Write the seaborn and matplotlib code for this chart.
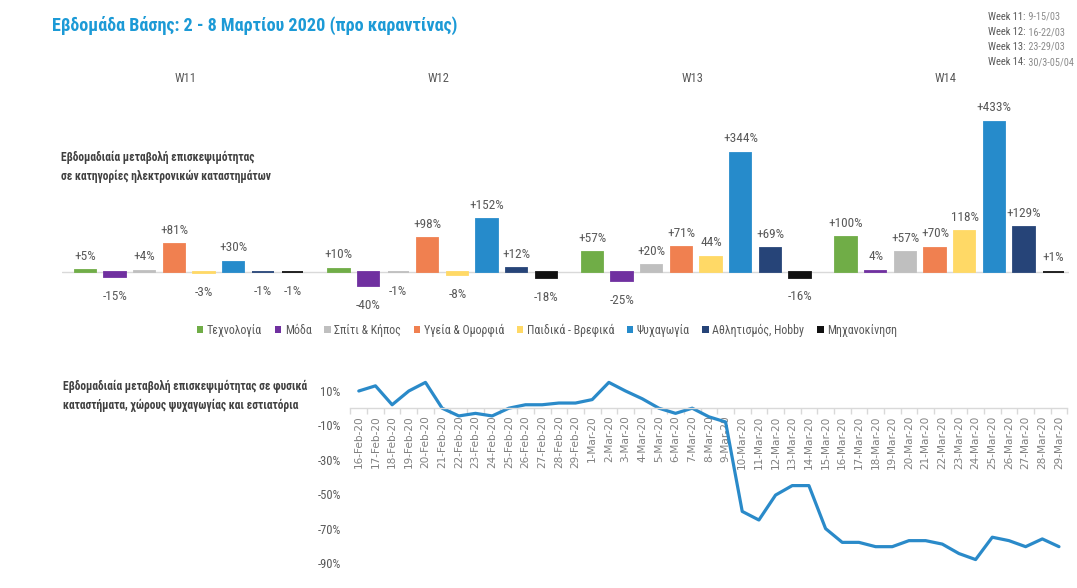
import matplotlib
matplotlib.use("Agg")
import matplotlib.pyplot as plt
import pandas as pd
import seaborn as sns
from matplotlib import font_manager

# ---- weekly change in e-shop visits per category ----
weeks = ["W11", "W12", "W13", "W14"]
categories = ["Τεχνολογία", "Μόδα", "Σπίτι & Κήπος", "Υγεία & Ομορφιά",
              "Παιδικά - Βρεφικά", "Ψυχαγωγία", "Αθλητισμός, Hobby", "Μηχανοκίνηση"]
colors = ["#70AD47", "#7030A0", "#BFBFBF", "#F08050",
          "#FFD966", "#268BCB", "#264478", "#111111"]
w11 = [5, -15, 4, 81, -3, 30, -1, -1]
w12 = [10, -40, -1, 98, -8, 152, 12, -18]
w13 = [57, -25, 20, 71, 44, 344, 69, -16]
w14 = [100, 4, 57, 70, 118, 433, 129, 1]
# values whose label is printed without a leading plus sign
unsigned = {("W13", 4), ("W14", 1), ("W14", 4)}

week_notes = [("Week 11:", " 9-15/03"), ("Week 12:", " 16-22/03"),
              ("Week 13:", " 23-29/03"), ("Week 14:", " 30/3-05/04")]

# ---- daily change in visits to physical stores ----
dates = ["16-Feb-20", "17-Feb-20", "18-Feb-20", "19-Feb-20", "20-Feb-20",
         "21-Feb-20", "22-Feb-20", "23-Feb-20", "24-Feb-20", "25-Feb-20",
         "26-Feb-20", "27-Feb-20", "28-Feb-20", "29-Feb-20", "1-Mar-20",
         "2-Mar-20", "3-Mar-20", "4-Mar-20", "5-Mar-20", "6-Mar-20",
         "7-Mar-20", "8-Mar-20", "9-Mar-20", "10-Mar-20", "11-Mar-20",
         "12-Mar-20", "13-Mar-20", "14-Mar-20", "15-Mar-20", "16-Mar-20",
         "17-Mar-20", "18-Mar-20", "19-Mar-20", "20-Mar-20", "21-Mar-20",
         "22-Mar-20", "23-Mar-20", "24-Mar-20", "25-Mar-20", "26-Mar-20",
         "27-Mar-20", "28-Mar-20", "29-Mar-20"]
visits = [10, 13, 2, 10, 15, 0, -4.5, -3, -4.5, 0, 2, 2, 3, 3,
          5, 15, 10, 5.5, 0, -3, 0, -5, -8, -60, -65, -50.5, -45, -45,
          -70, -78, -78, -80.5, -80.5, -77, -77, -79, -84.5, -88, -75,
          -77, -80.5, -76, -80.5]
y_ticks = [10, -10, -30, -50, -70, -90]

sns.set_theme(style="white")
available = {f.name for f in font_manager.fontManager.ttflist}


def pick(*cands):
    for c in cands:
        if c in available:
            return c
    return "DejaVu Sans"


NARROW = pick("Liberation Sans Narrow", "Roboto Condensed", "Open Sans", "Noto Sans")
plt.rcParams["font.family"] = [NARROW, "DejaVu Sans"]

TXT = "#595959"

fig = plt.figure(figsize=(10.77, 5.88), dpi=100)

# ================= bar chart =================
bar_df = pd.DataFrame({
    "week": [w for w in weeks for _ in categories],
    "category": categories * len(weeks),
    "change": w11 + w12 + w13 + w14,
})
axb = fig.add_axes([0.0578, 0.4784, 0.9348, 0.3541])
sns.barplot(data=bar_df, x="week", y="change", hue="category",
            order=weeks, hue_order=categories, palette=colors,
            width=0.935, gap=0.28, linewidth=0, saturation=1,
            errorbar=None, ax=axb)
handles, labels = axb.get_legend_handles_labels()
if axb.get_legend() is not None:
    axb.get_legend().remove()
# outline each bar in its own colour so that near-zero bars stay visible
for cont in axb.containers:
    for bar in cont:
        bar.set_edgecolor(bar.get_facecolor())
        bar.set_linewidth(1.3)
axb.set_xlim(-0.5, 3.47)
axb.set_ylim(-100, 500)
axb.set_xticks([])
axb.set_yticks([])
axb.set_xlabel("")
axb.set_ylabel("")
for s in axb.spines.values():
    s.set_visible(False)
axb.axhline(0, color="#D9D9D9", lw=1, zorder=0)

lookup = bar_df.set_index(["week", "category"])["change"]
for ci, cont in enumerate(axb.containers):
    for wi, bar in enumerate(cont):
        wk, cat = weeks[wi], categories[ci]
        v = int(lookup[(wk, cat)])
        if v >= 0:
            txt = f"{v}%" if (wk, ci) in unsigned else f"+{v}%"
            off = 9.9
        else:
            txt = f"{v}%"
            off = -14.0
        axb.annotate(txt, (bar.get_x() + bar.get_width() / 2, bar.get_height()),
                     xytext=(0, off), textcoords="offset points",
                     ha="center", va="center", fontsize=9.5, color=TXT)

for i, wk in enumerate(weeks):
    axb.text(i - 0.015, 1.098, wk, transform=axb.get_xaxis_transform(),
             ha="center", va="center", fontsize=9, color=TXT)

fig.legend(handles, labels, loc="center", bbox_to_anchor=(547 / 1077, 1 - 330 / 588),
           ncol=8, frameon=False, fontsize=8.6, handlelength=0.55, handleheight=0.55,
           handletextpad=0.3, columnspacing=1.05, labelcolor=TXT)

# ================= line chart =================
line_df = pd.DataFrame({"idx": range(len(dates)), "visits": visits})
axl = fig.add_axes([0.3254, 0.0425, 0.6656, 0.3218])
sns.lineplot(data=line_df, x="idx", y="visits", color="#2A8AC9", lw=2.3, ax=axl)
axl.set_xlim(-0.5, len(dates) - 0.5)
axl.set_ylim(-90, 20)
axl.set_xlabel("")
axl.set_ylabel("")
for side in ("top", "right", "left"):
    axl.spines[side].set_visible(False)
axl.spines["bottom"].set_position(("data", 0))
axl.spines["bottom"].set_color("#D9D9D9")
axl.spines["bottom"].set_linewidth(1)
axl.set_xticks(range(len(dates)))
axl.set_xticklabels(dates, rotation=90, fontsize=7.6, color="#808080",
                    family="DejaVu Sans")
axl.set_xticks([i - 0.5 for i in range(len(dates) + 1)], minor=True)
axl.tick_params(axis="x", which="major", length=0, pad=5)
axl.tick_params(axis="x", which="minor", length=4, color="#D9D9D9", width=1,
                direction="out", bottom=True)
axl.set_yticks(y_ticks)
axl.set_yticklabels([f"{t}%" for t in y_ticks], fontsize=9, color=TXT)
axl.tick_params(axis="y", length=0, pad=7)
axl.grid(False)

# ================= titles =================
fig.text(52 / 1077, 1 - 25 / 588, "Εβδομάδα Βάσης: 2 - 8 Μαρτίου 2020 (προ καραντίνας)",
         ha="left", va="center", fontsize=13.1, fontweight="bold", color="#1C9AD6")
fig.text(61 / 1077, 1 - 167 / 588,
         "Εβδομαδιαία μεταβολή επισκεψιμότητας\nσε κατηγορίες ηλεκτρονικών καταστημάτων",
         ha="left", va="center", fontsize=8.3, fontweight="bold", color="#404040",
         linespacing=1.55)
fig.text(63 / 1077, 1 - 396 / 588,
         "Εβδομαδιαία μεταβολή επισκεψιμότητας σε φυσικά\nκαταστήματα, χώρους ψυχαγωγίας και εστιατόρια",
         ha="left", va="center", fontsize=8.3, fontweight="bold", color="#404040",
         linespacing=1.55)

for k, (head, span) in enumerate(week_notes):
    t = fig.text(988 / 1077, 1 - (17 + 15 * k) / 588, head, ha="left", va="center",
                 fontsize=7.6, color="#595959")
    axb.annotate(span, xy=(1, 0.5), xycoords=t, ha="left", va="center",
                 fontsize=7.4, color="#8C8C8C", annotation_clip=False)

fig.savefig("out.png", dpi=100)
